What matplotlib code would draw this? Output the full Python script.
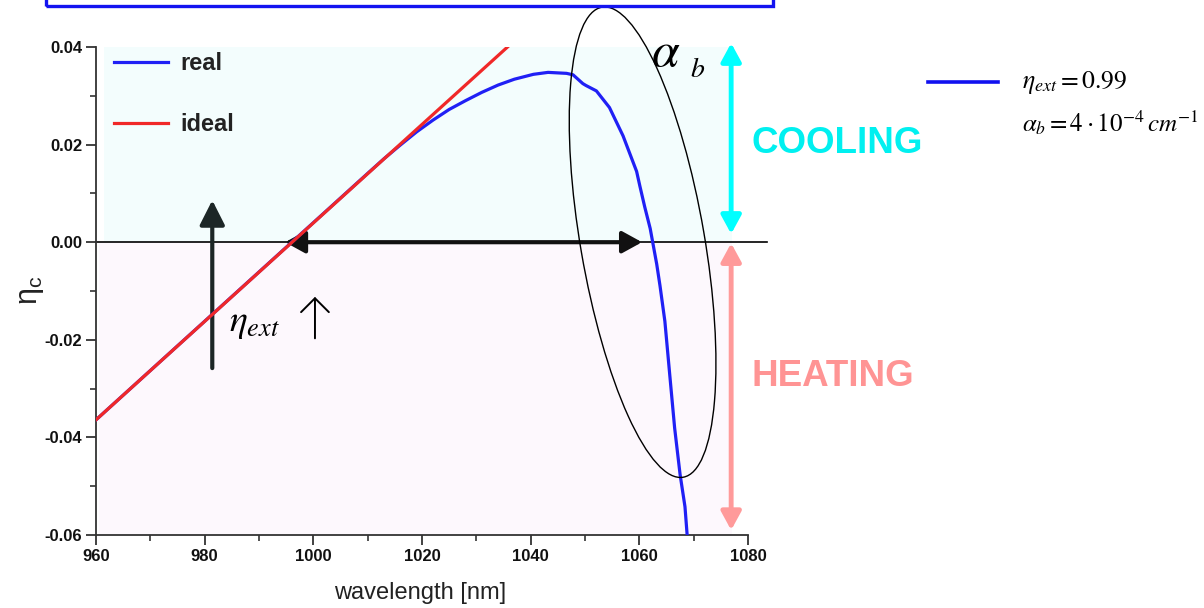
import matplotlib
matplotlib.use("Agg")
import matplotlib.pyplot as plt
from matplotlib.patches import Ellipse, Rectangle
from matplotlib.transforms import IdentityTransform
from matplotlib.lines import Line2D

plt.rcParams['mathtext.fontset'] = 'stix'
plt.rcParams['axes.unicode_minus'] = False
plt.rcParams['font.family'] = ['Liberation Sans', 'DejaVu Sans']

# datos
lam_real = [960, 980, 1000, 1010, 1013, 1016, 1019, 1022, 1025, 1028, 1031, 1034, 1037,
            1040.5, 1043.2, 1046.6, 1047.8, 1049.6, 1050.2, 1052.1, 1054.5, 1057.0,
            1059.5, 1060.1, 1061.0, 1062.0, 1063.2, 1063.8, 1064.7, 1065.6, 1066.5,
            1067.5, 1068.4, 1068.8, 1069.2]
eta_real = [-0.0364, -0.0162, 0.0040, 0.0141, 0.0171, 0.0199, 0.0226, 0.0250, 0.0272,
            0.0290, 0.0307, 0.0322, 0.0334, 0.0344, 0.0348, 0.0346, 0.0343, 0.0325,
            0.0321, 0.0310, 0.0276, 0.0218, 0.0145, 0.0115, 0.0072, 0.0028, -0.0045,
            -0.0089, -0.0162, -0.0272, -0.0381, -0.0476, -0.0542, -0.0600, -0.0630]
lam_ideal = [960, 1040]
eta_ideal = [-0.0364, 0.0443]

xticks = [960, 980, 1000, 1020, 1040, 1060, 1080]
yticks = [-0.06, -0.04, -0.02, 0.00, 0.02, 0.04]

W, H = 1204, 608
fig = plt.figure(figsize=(W / 100, H / 100), dpi=100)
ax = fig.add_axes([96 / W, 1 - 535 / H, 652 / W, 488 / H])
ax.set_xlim(960, 1080)
ax.set_ylim(-0.06, 0.04)

# fondos enfriamiento / calentamiento
ax.add_patch(Rectangle((961.5, 0), 1077 - 961.5, 0.04, facecolor='#F3FDFD', edgecolor='none', zorder=0))
ax.add_patch(Rectangle((960.5, -0.06), 1077 - 960.5, 0.06, facecolor='#FDF8FD', edgecolor='none', zorder=0))

ax.plot([960, 1083.5], [0, 0], color='black', lw=1.2, clip_on=False, zorder=2)

l_real, = ax.plot(lam_real, eta_real, color='#2020F5', lw=2.3, zorder=4)
l_ideal, = ax.plot(lam_ideal, eta_ideal, color='#F02828', lw=2.3, zorder=5)

leg = ax.legend([l_real, l_ideal], ['real', 'ideal'], loc='upper left',
                bbox_to_anchor=(1 / 652, 1.024), frameon=False, handlelength=2.3,
                handletextpad=0.55, labelspacing=1.62, borderpad=0.2,
                prop={'weight': 'bold', 'size': 17})
for t in leg.get_texts():
    t.set_color('#222222')

ax.spines['top'].set_visible(False)
ax.spines['right'].set_visible(False)
for s in ('left', 'bottom'):
    ax.spines[s].set_color('#333333')
    ax.spines[s].set_linewidth(1.3)
ax.set_xticks(xticks)
ax.set_yticks(yticks)
ax.set_xticks(range(970, 1080, 20), minor=True)
ax.set_yticks([-0.05, -0.03, -0.01, 0.01, 0.03], minor=True)
ax.set_yticklabels(['%.2f' % v for v in yticks])
ax.tick_params(which='major', length=7, width=1.3, color='#333333', direction='out')
ax.tick_params(which='minor', length=4, width=1.2, color='#333333', direction='out')
ax.tick_params(labelsize=12, pad=3)
for lb in ax.get_xticklabels() + ax.get_yticklabels():
    lb.set_fontweight('bold')
    lb.set_color('#111111')

ax.set_xlabel('wavelength [nm]', fontsize=17, color='#222222')
ax.xaxis.set_label_coords((420 - 96) / 652, -(582 - 535) / 488)
ax.set_ylabel(r'$\mathregular{\eta_c}$', fontsize=22, color='#222222')
ax.yaxis.set_label_coords((46 - 96) / 652, (535 - 290) / 488)

# flechas
ax.annotate('', xy=(981.4, 0.0086), xytext=(981.4, -0.0258),
            arrowprops=dict(arrowstyle='-|>,head_length=0.75,head_width=0.38', lw=3,
                            color='#1C2626', shrinkA=0, shrinkB=0, mutation_scale=20))
ax.annotate('', xy=(994.8, 0), xytext=(1060.5, 0),
            arrowprops=dict(arrowstyle='<|-|>,head_length=0.6,head_width=0.33', lw=3,
                            color='#111111', shrinkA=0, shrinkB=0, mutation_scale=20))
ax.annotate('', xy=(1076.9, 0.0408), xytext=(1076.9, 0.0017), annotation_clip=False,
            arrowprops=dict(arrowstyle='<|-|>,head_length=0.55,head_width=0.3', lw=3.5,
                            color='#00FFFF', shrinkA=0, shrinkB=0, mutation_scale=20))
ax.annotate('', xy=(1076.9, -0.0002), xytext=(1076.9, -0.0590), annotation_clip=False,
            arrowprops=dict(arrowstyle='<|-|>,head_length=0.55,head_width=0.3', lw=3.5,
                            color='#FF9A9A', shrinkA=0, shrinkB=0, mutation_scale=20))
ax.annotate('', xy=(1000.3, -0.0112), xytext=(1000.3, -0.0197),
            arrowprops=dict(arrowstyle='->,head_length=0.5,head_width=0.5', lw=1.4,
                            color='black', shrinkA=0, shrinkB=0, mutation_scale=20))

ax.text(1080.7, 0.0203, 'COOLING', color='#00F0F0', fontsize=26.5, fontweight='bold',
        va='center', ha='left', clip_on=False)
ax.text(1080.7, -0.0276, 'HEATING', color='#FF9494', fontsize=26.5, fontweight='bold',
        va='center', ha='left', clip_on=False)

ax.text(984.5, -0.0182, r'$\eta_{ext}$', fontsize=27, va='baseline', ha='left')
ax.text(1062.2, 0.0361, r'$\alpha$', fontsize=36, va='baseline', ha='left', clip_on=False)
ax.text(1069.3, 0.0339, r'$b$', fontsize=20, va='baseline', ha='left', clip_on=False)

# elipse alrededor de la caida
fig.canvas.draw()
cx, cy = ax.transData.transform((1060.6, 0.0))
ax.add_artist(Ellipse((cx, cy), 124, 477, angle=9.8, transform=IdentityTransform(),
                      fill=False, edgecolor='black', lw=1.0, clip_on=False, zorder=6))

# leyenda derecha
fig.add_artist(Line2D([928 / W, 998 / W], [1 - 82 / H, 1 - 82 / H], color='#1010F0', lw=2.6))
fig.text(1022 / W, 1 - 82 / H, r'$\eta_{ext} = 0.99$', fontsize=18.5, va='center', ha='left')
fig.text(1022 / W, 1 - 123 / H, r'$\alpha_b = 4 \cdot 10^{-4}\, cm^{-1}$', fontsize=18,
         va='center', ha='left')

# marco azul superior
fig.add_artist(Rectangle((46 / W, 1 - 6 / H), (773 - 46) / W, 0.2, transform=fig.transFigure,
                         fill=False, edgecolor='#1414F0', lw=2.4, clip_on=False))

fig.savefig('out.png', dpi=100)
